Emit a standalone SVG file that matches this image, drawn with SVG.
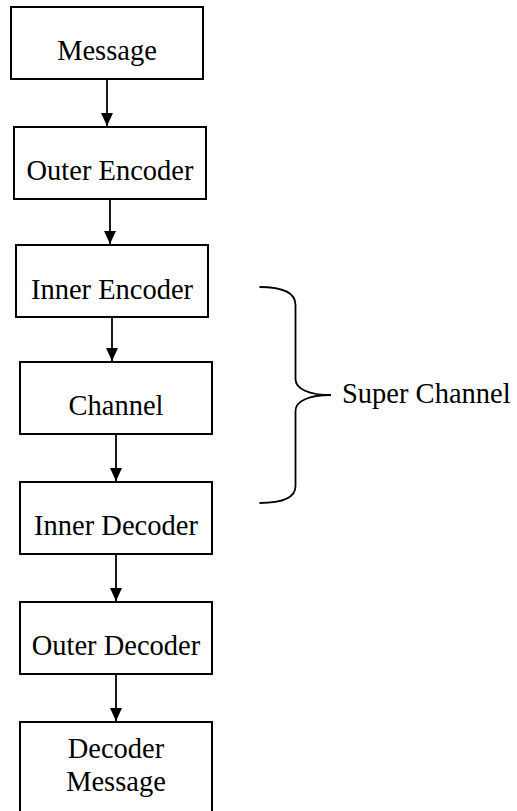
<svg xmlns="http://www.w3.org/2000/svg" width="517" height="811" viewBox="0 0 517 811">
<style>
.box{fill:#fff;stroke:#000;stroke-width:2}
.lbl{font-family:"Liberation Serif","Times New Roman",serif;font-size:28.5px;fill:#000;text-anchor:middle}
.edge{stroke:#000;stroke-width:1.8;fill:none}
</style>
<defs>
<marker id="ah" markerUnits="userSpaceOnUse" markerWidth="13" markerHeight="12" refX="13" refY="6" orient="auto" viewBox="0 0 13 12">
<path d="M0,0 L13,6 L0,12 z" fill="#000"/>
</marker>
</defs>
<rect width="517" height="811" fill="#fff"/>
<g id="connectors">
<line class="edge" x1="107" y1="80" x2="107" y2="126" marker-end="url(#ah)"/>
<line class="edge" x1="110" y1="200" x2="110" y2="244" marker-end="url(#ah)"/>
<line class="edge" x1="112" y1="318" x2="112" y2="361" marker-end="url(#ah)"/>
<line class="edge" x1="116" y1="435" x2="116" y2="481" marker-end="url(#ah)"/>
<line class="edge" x1="116" y1="555" x2="116" y2="601" marker-end="url(#ah)"/>
<line class="edge" x1="116" y1="675" x2="116" y2="721" marker-end="url(#ah)"/>
</g>
<g id="message"><rect class="box" x="11" y="7" width="192" height="72"/><text class="lbl" x="107" y="60">Message</text></g>
<g id="outer-encoder"><rect class="box" x="14" y="127" width="192" height="72"/><text class="lbl" x="110" y="180">Outer Encoder</text></g>
<g id="inner-encoder"><rect class="box" x="16" y="245" width="192" height="72"/><text class="lbl" x="112" y="299">Inner Encoder</text></g>
<g id="channel"><rect class="box" x="20" y="362" width="192" height="72"/><text class="lbl" x="116" y="415">Channel</text></g>
<g id="inner-decoder"><rect class="box" x="20" y="482" width="192" height="72"/><text class="lbl" x="116" y="535">Inner Decoder</text></g>
<g id="outer-decoder"><rect class="box" x="20" y="602" width="192" height="72"/><text class="lbl" x="116" y="655">Outer Decoder</text></g>
<g id="decoder-message"><rect class="box" x="20" y="722" width="192" height="100"/><text class="lbl" x="116" y="758">Decoder</text><text class="lbl" x="116" y="791">Message</text></g>
<g id="super-channel">
<path class="edge" d="M259.5,287 C281,287 295.5,292 295.5,305 L295.5,379 C295.5,389 309,395 331,395 C309,395 295.5,401 295.5,411 L295.5,486 C295.5,498 281,503 259.5,503"/>
<text class="lbl" x="342" y="403" style="text-anchor:start">Super Channel</text>
</g>
</svg>
